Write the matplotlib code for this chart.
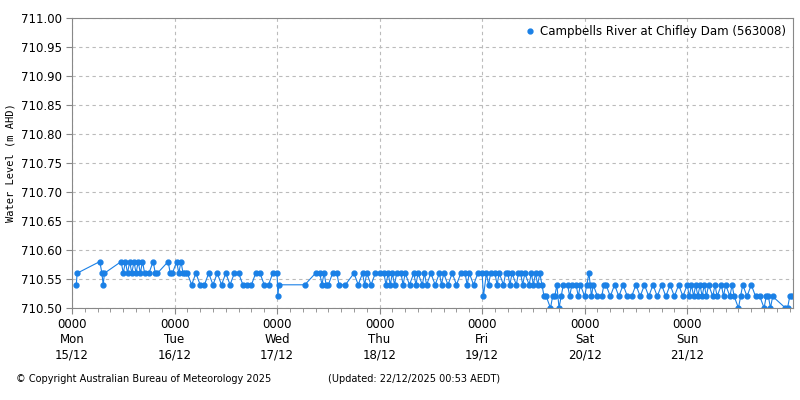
import matplotlib
matplotlib.use("Agg")
import matplotlib.pyplot as plt
import numpy as np

hours_a = [1,1.2,6.5,7,7.3,7.6,11.5,12,12.5,13,13.5,14,14.5,15,15.5,16,16.5,17,18,19,19.5,20,22.5,23,23.5,24.5,25,25.5,26,26.5]
vals_a = [.54,.56,.58,.56,.54,.56,.58,.56,.58,.56,.58,.56,.58,.56,.58,.56,.58,.56,.56,.58,.56,.56,.58,.56,.56,.58,.56,.58,.56,.56]
hours_b = [27,28,29,30,31,32,33,34,35,36,37,38,39,40,41,42,43,44,45,46,47,48,48.2,48.4,
           54.5,57,58,58.5,59,59.5,60,61,62,62.5,64,66,67,68,68.5,69,70,71,72]
vals_b = [.56,.54,.56,.54,.54,.56,.54,.56,.54,.56,.54,.56,.56,.54,.54,.54,.56,.56,.54,.54,.56,.56,.52,.54,
          .54,.56,.56,.54,.56,.54,.54,.56,.56,.54,.54,.56,.54,.56,.54,.56,.54,.56,.56]
hours_c = [73,73.5,74,74.5,75,75.5,76,77,77.5,78,79,80,80.5,81,82,82.5,83,84,85,86,86.5,87,88,89,90,91,92,92.5,93,94,95,96,
           96.3,97,97.5,98,99,99.5,100,101,101.5,102,102.5,103,104,104.5,105,105.5,106,107,107.5,108,108.5,109,109.5]
vals_c = [.56,.54,.56,.54,.56,.54,.56,.56,.54,.56,.54,.56,.54,.56,.54,.56,.54,.56,.54,.56,.54,.56,.54,.56,.54,.56,.56,.54,.56,.54,.56,.56,
          .52,.56,.54,.56,.56,.54,.56,.54,.56,.56,.54,.56,.54,.56,.56,.54,.56,.54,.56,.54,.56,.54,.56]
hours_d = [110,110.5,111,112,112.5,113,113.5,114,114.5,115,116,116.5,117,118,118.5,119,120,120.5,121,121.3,121.6,122,123,124,124.5,125,126,127,128,129,130,131,132,133,134,135,136,137,138,139,140,141,142,143,144,
           144.5,145,145.5,146,146.5,147,147.5,148,148.5,149,150,150.5,151,152,152.5,153,154,154.5,155,156,156.5,157,158,159,160,161,162,162.5,163,163.5,164,167,167.5,168,168.5]
vals_d = [.54,.52,.52,.50,.52,.52,.54,.50,.52,.54,.54,.52,.54,.54,.52,.54,.52,.54,.56,.54,.52,.54,.52,.52,.54,.54,.52,.54,.52,.54,.52,.52,.54,.52,.54,.52,.54,.52,.54,.52,.54,.52,.54,.52,.54,
          .52,.54,.52,.54,.52,.54,.52,.54,.52,.54,.52,.54,.52,.54,.52,.54,.52,.54,.52,.50,.52,.54,.52,.54,.52,.52,.50,.52,.52,.50,.52,.50,.50,.52,.52]

hours = np.array(hours_a + hours_b + hours_c + hours_d)
vals = 710 + np.array(vals_a + vals_b + vals_c + vals_d)

tick_labels = ["0000\nMon\n15/12", "0000\nTue\n16/12", "0000\nWed\n17/12", "0000\nThu\n18/12",
               "0000\nFri\n19/12", "0000\nSat\n20/12", "0000\nSun\n21/12"]

fig = plt.figure(figsize=(8, 4), dpi=100)
ax = fig.add_axes([0.09, 0.23, 0.901, 0.725])
color = "#1a80e6"
ax.plot(hours / 24, vals, "-o", color=color, lw=0.8, ms=3.5, label="Campbells River at Chifley Dam (563008)")
ax.set_xlim(0, 7.03)
ax.set_ylim(710.5, 711.0)
ax.set_yticks(np.arange(710.5, 711.001, 0.05))
ax.set_yticklabels([f"{v:.2f}" for v in np.arange(710.5, 711.001, 0.05)], fontsize=8.5)
ax.set_xticks(range(7))
ax.set_xticklabels(tick_labels, fontsize=8.5)
ax.set_xticks(np.arange(0, 7.03, 0.125), minor=True)
ax.tick_params(axis="x", which="minor", length=3, color="#888888")
ax.tick_params(axis="both", which="major", length=4, color="#888888")
ax.grid(True, which="major", ls=(0, (3, 3)), color="#bbbbbb", lw=0.8)
for s in ax.spines.values():
    s.set_color("#888888")
ax.set_ylabel("Water Level (m AHD)", fontsize=7.5, family="monospace")
ax.legend(loc="upper right", fontsize=8.5, frameon=False, handlelength=0.8, handletextpad=0.4, markerscale=1,
          borderaxespad=0.2)
leg = ax.get_legend()
for h in leg.legend_handles:
    h.set_linestyle("none")
fig.text(0.02, 0.045, "© Copyright Australian Bureau of Meteorology 2025", fontsize=7)
fig.text(0.41, 0.045, "(Updated: 22/12/2025 00:53 AEDT)", fontsize=7)
fig.savefig("out.png", dpi=100)
